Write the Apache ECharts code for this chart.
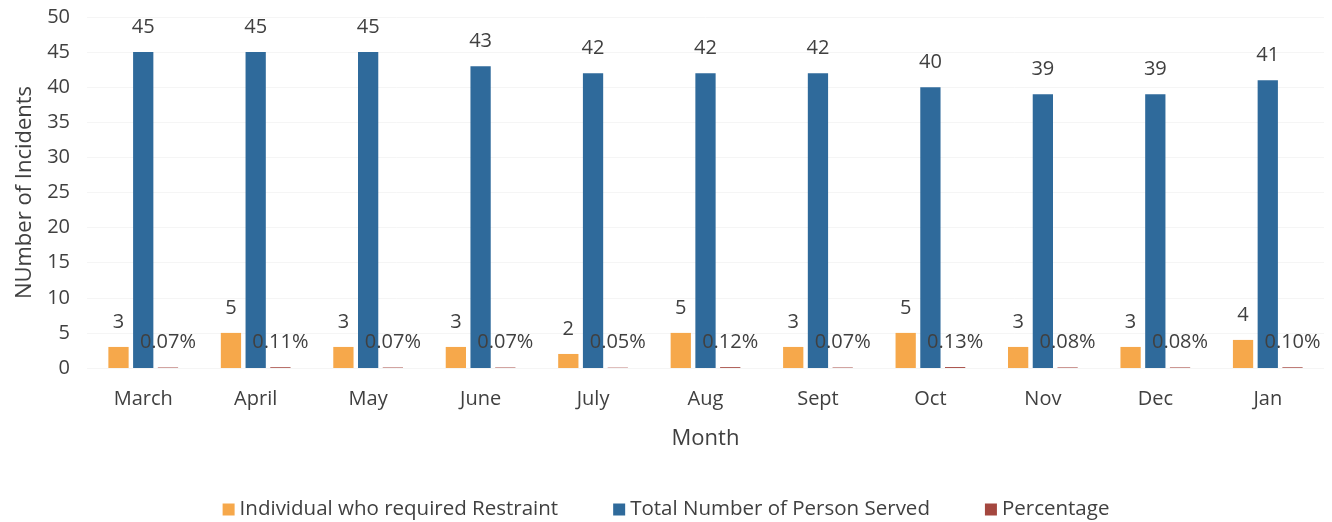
<!DOCTYPE html>
<html>
<head>
<meta charset="utf-8">
<script src="https://cdn.jsdelivr.net/npm/echarts@6/dist/echarts.min.js"></script>
<style>
html,body{margin:0;padding:0;background:#fff;}
#chart{width:1332px;height:522px;}
</style>
</head>
<body>
<div id="chart"></div>
<script>
const months = ['March','April','May','June','July','Aug','Sept','Oct','Nov','Dec','Jan'];
const restraint = [3,5,3,3,2,5,3,5,3,3,4];
const totalServed = [45,45,45,43,42,42,42,40,39,39,41];
const percentage = [0.07,0.11,0.07,0.07,0.05,0.12,0.07,0.13,0.08,0.08,0.10];
const yTicks = {min:0, max:50, interval:5};

const FONT = "'Open Sans', sans-serif";
const TXT = '#404040';
const chart = echarts.init(document.getElementById('chart'), null, {renderer:'canvas'});
const lbl = {show:true, position:'top', distance:15, color:TXT, fontSize:20, fontFamily:FONT};
chart.setOption({
  animation:false,
  textStyle:{fontFamily:FONT},
  grid:{left:87, right:8, top:17, bottom:154},
  legend:{
    top:494, left:'center', itemWidth:12, itemHeight:12, itemGap:55,
    icon:'rect',
    textStyle:{color:TXT, fontSize:20.5, fontFamily:FONT},
    data:['Individual who required Restraint','Total Number of Person Served','Percentage']
  },
  xAxis:{
    type:'category', data:months,
    axisLine:{show:false}, axisTick:{show:false},
    axisLabel:{color:TXT, fontSize:20, fontFamily:FONT, margin:21},
    name:'Month', nameLocation:'middle', nameGap:60,
    nameTextStyle:{color:TXT, fontSize:22, fontFamily:FONT}
  },
  yAxis:{
    type:'value', min:yTicks.min, max:yTicks.max, interval:yTicks.interval,
    axisLine:{show:false}, axisTick:{show:false},
    splitLine:{lineStyle:{color:'#f5f5f5'}},
    axisLabel:{color:TXT, fontSize:20, fontFamily:FONT, margin:17},
    name:'NUmber of Incidents', nameLocation:'middle', nameGap:51,
    nameTextStyle:{color:TXT, fontSize:22, fontFamily:FONT}
  },
  series:[
    {name:'Individual who required Restraint', type:'bar', data:restraint,
     itemStyle:{color:'#F6A84B'}, barGap:'22%', barCategoryGap:'38%', label:lbl},
    {name:'Total Number of Person Served', type:'bar', data:totalServed,
     itemStyle:{color:'#2F6A9B'}, label:lbl},
    {name:'Percentage', type:'bar', data:percentage,
     itemStyle:{color:'#A4473F'},
     label:Object.assign({}, lbl, {formatter:p=>p.value.toFixed(2)+'%'})}
  ]
});
</script>
</body>
</html>
